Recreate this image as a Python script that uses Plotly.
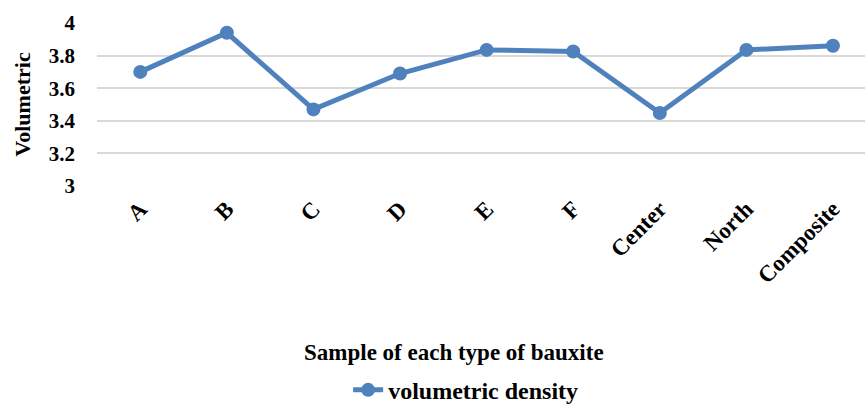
import plotly.graph_objects as go

categories = ["A", "B", "C", "D", "E", "F", "Center", "North", "Composite"]
values = [3.70, 3.94, 3.47, 3.69, 3.835, 3.825, 3.448, 3.835, 3.86]
y_ticks = [3, 3.2, 3.4, 3.6, 3.8, 4]
y_tick_labels = ["3", "3.2", "3.4", "3.6", "3.8", "4"]

font_family = "Liberation Serif"

def b(s):
    return "<b>" + s + "</b>"

fig = go.Figure()
fig.add_trace(go.Scatter(
    x=list(range(len(categories))), y=values,
    mode="lines+markers",
    name=b("volumetric density"),
    line=dict(color="#4f81bd", width=5),
    marker=dict(color="#4f81bd", size=14),
))

fig.update_layout(
    width=865, height=404,
    margin=dict(l=97, r=0, t=23, b=218),
    paper_bgcolor="white", plot_bgcolor="white",
    font=dict(family=font_family, size=21, color="black"),
    xaxis=dict(
        range=[-0.5, 8.37],
        tickmode="array",
        tickvals=list(range(len(categories))),
        ticktext=[b(c) for c in categories],
        tickangle=-45,
        showgrid=False, zeroline=False, showline=False,
        ticks="",
        ticklabelstandoff=4,
        automargin=False,
        tickfont=dict(family=font_family, size=23, color="black"),
    ),
    yaxis=dict(
        range=[3, 4],
        tickmode="array",
        tickvals=y_ticks,
        ticktext=[b(t) for t in y_tick_labels],
        showgrid=True, gridcolor="#d9d9d9", gridwidth=1.5,
        zeroline=False, showline=False, ticks="",
        ticklabelstandoff=21,
        automargin=False,
        tickfont=dict(family=font_family, size=21, color="black"),
        title=dict(text=b("Volumetric"), standoff=12,
                   font=dict(family=font_family, size=22, color="black")),
    ),
    showlegend=True,
    legend=dict(
        orientation="h", x=0.48, xanchor="center",
        yref="container", y=0.034, yanchor="middle",
        font=dict(family=font_family, size=24, color="black"),
        bgcolor="rgba(0,0,0,0)",
    ),
    annotations=[dict(
        text=b("Sample of each type of bauxite"),
        xref="paper", yref="paper", x=0.465, y=-1.02,
        xanchor="center", yanchor="middle", showarrow=False,
        font=dict(family=font_family, size=23, color="black"),
    )],
)

fig.write_html("out.html")
